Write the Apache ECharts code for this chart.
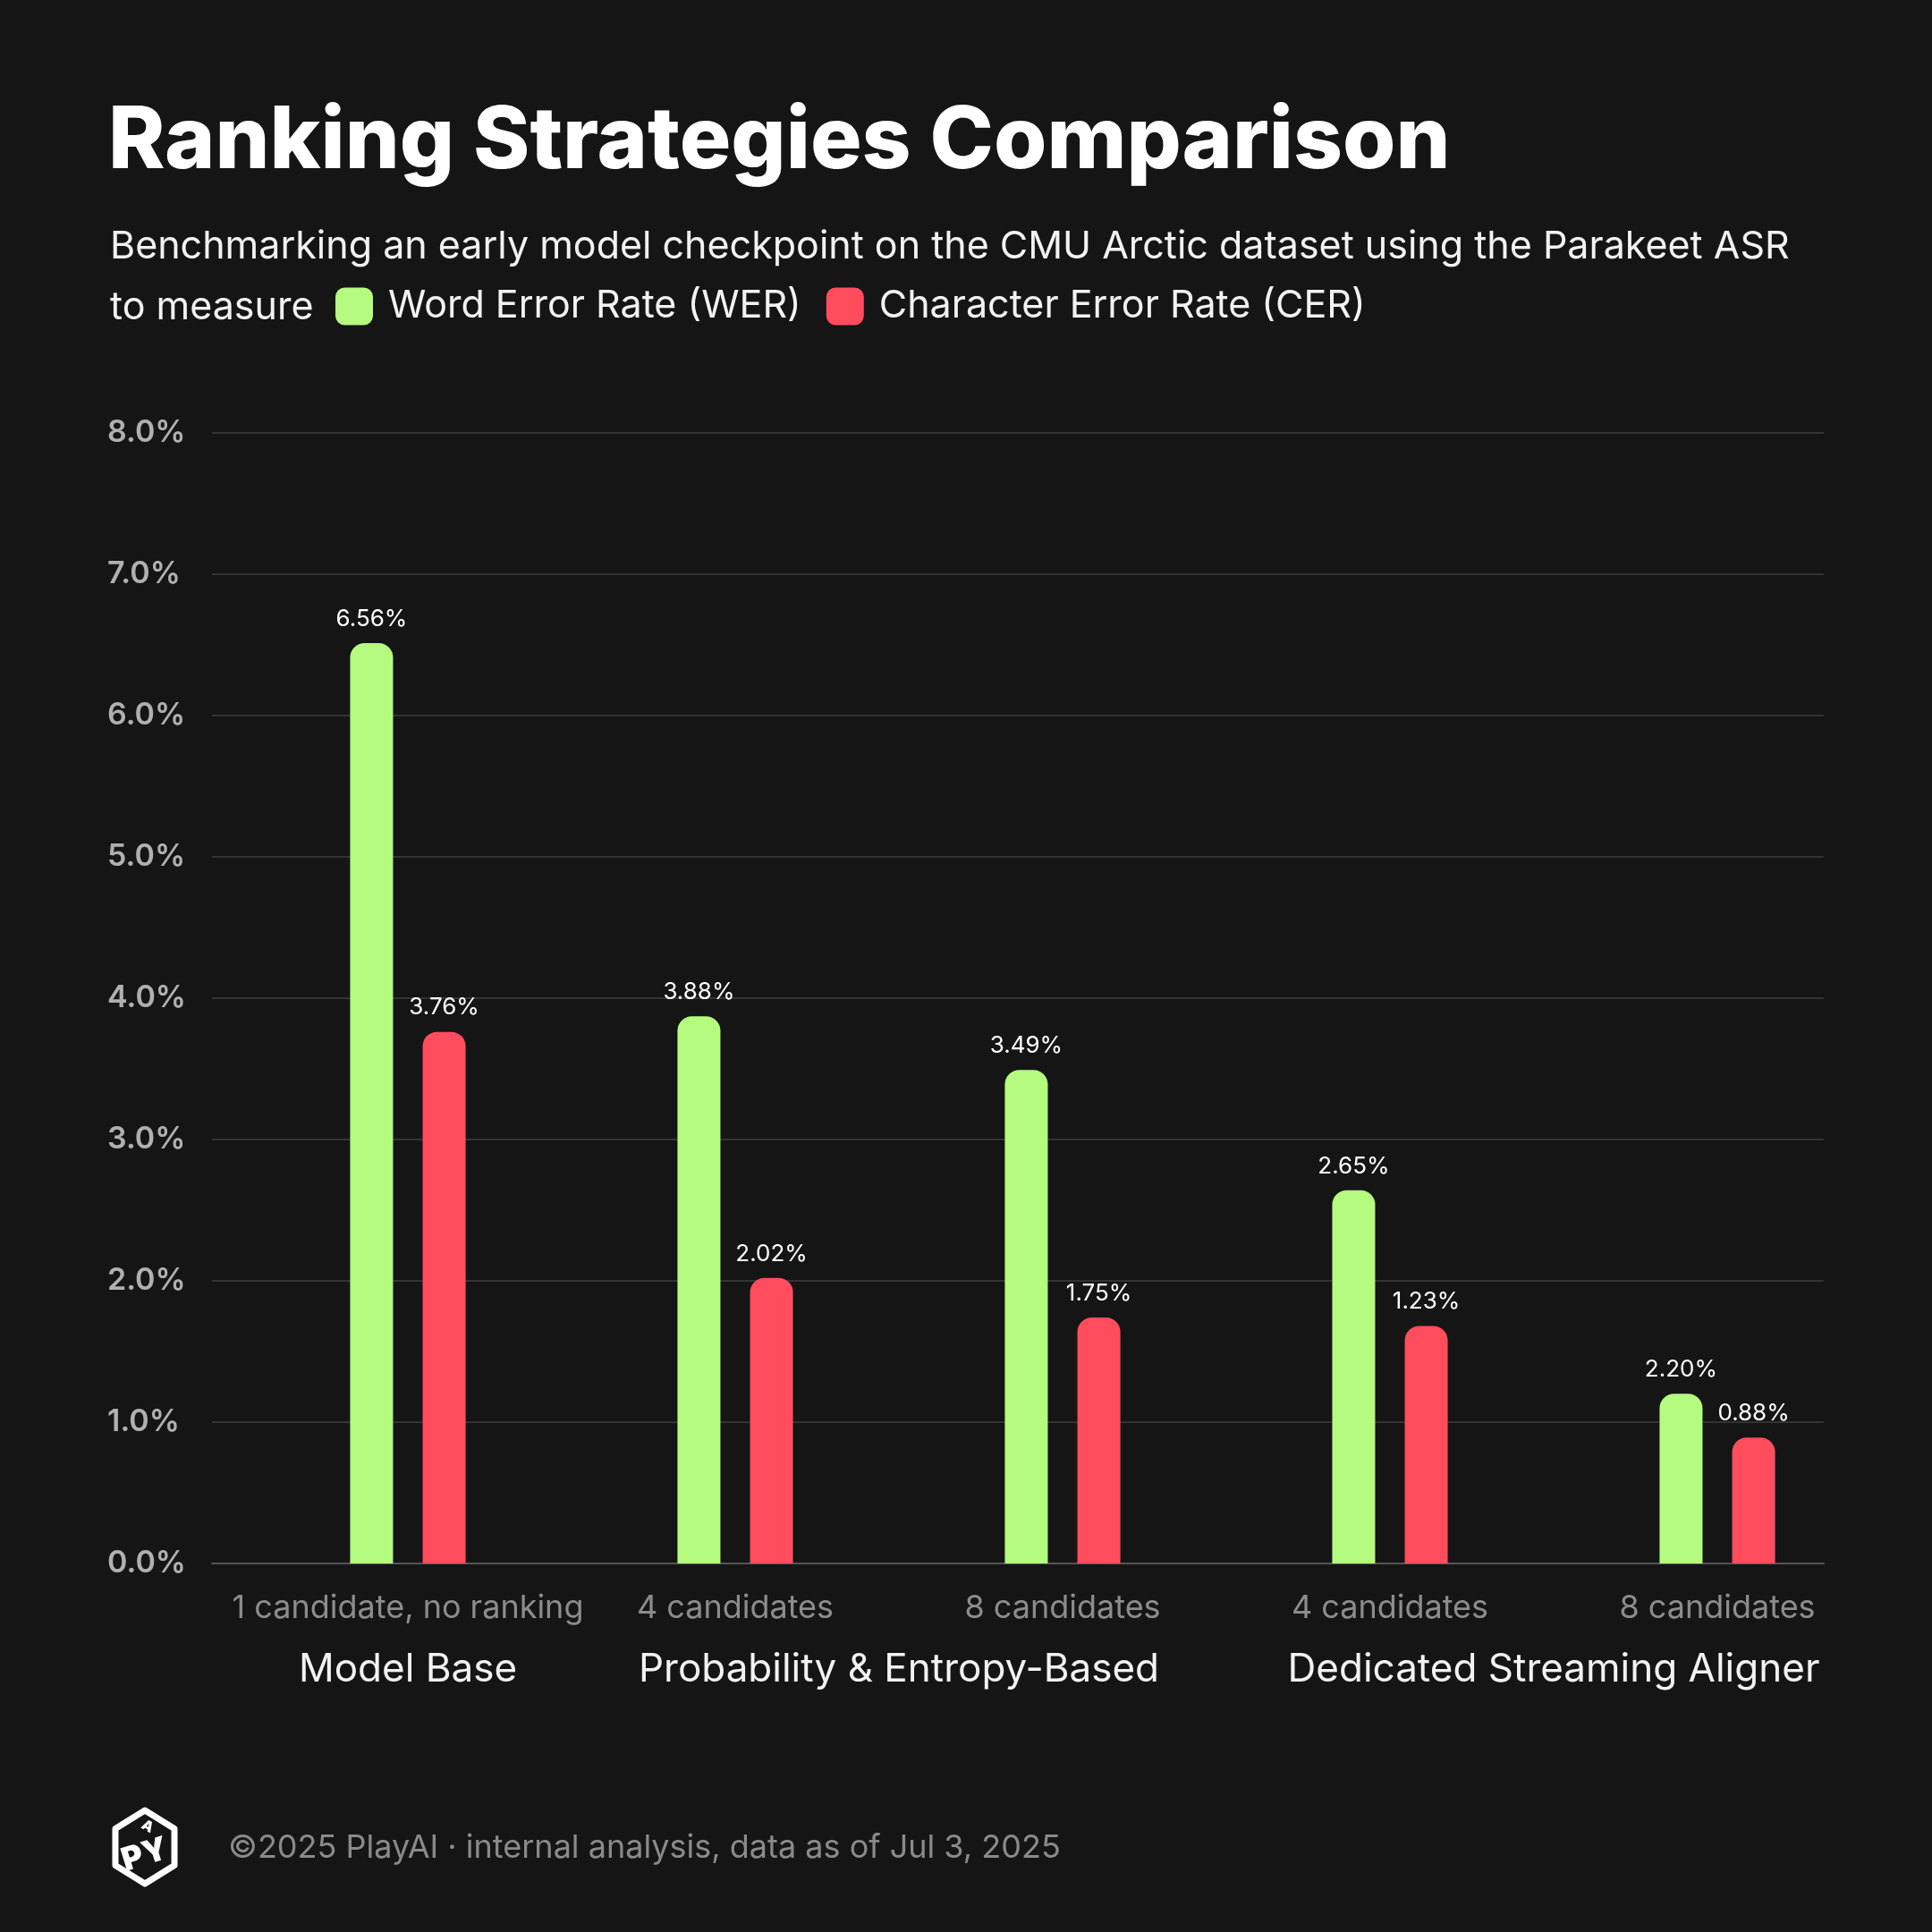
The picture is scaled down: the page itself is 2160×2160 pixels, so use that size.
<!DOCTYPE html>
<html>
<head>
<meta charset="utf-8">
<script src="https://cdn.jsdelivr.net/npm/echarts@6/dist/echarts.min.js"></script>
<style>
  html, body { margin: 0; padding: 0; background: #151515; }
  #main { width: 2160px; height: 2160px; }
</style>
</head>
<body>
<div id="main"></div>
<script>
// data
var categories = ['1 candidate, no ranking', '4 candidates', '8 candidates', '4 candidates', '8 candidates'];
var werValues = [6.51, 3.87, 3.49, 2.64, 1.20];
var cerValues = [3.76, 2.02, 1.74, 1.68, 0.89];
var werLabels = ['6.56%', '3.88%', '3.49%', '2.65%', '2.20%'];
var cerLabels = ['3.76%', '2.02%', '1.75%', '1.23%', '0.88%'];
var groupNames = ['Model Base', 'Probability & Entropy-Based', 'Dedicated Streaming Aligner'];
var groupSpans = [[0, 0], [1, 2], [3, 4]];
var yTicks = [0, 1, 2, 3, 4, 5, 6, 7, 8];

var FONT = 'Inter, "Noto Sans", sans-serif';
var GREEN = '#b4fb7f';
var RED = '#ff4d5e';

var myChart = echarts.init(document.getElementById('main'), null, { renderer: 'canvas' });

function barSeries(name, values, labels, color) {
  return {
    name: name,
    type: 'bar',
    xAxisIndex: 1,
    yAxisIndex: 1,
    barWidth: 48,
    barGap: '69%',
    data: values,
    itemStyle: { color: color, borderRadius: [16, 16, 0, 0] },
    label: {
      show: true,
      position: 'top',
      distance: 14,
      color: '#ffffff',
      fontFamily: FONT,
      fontSize: 26,
      formatter: function (p) { return labels[p.dataIndex]; }
    }
  };
}

var option = {
  backgroundColor: '#151515',
  animation: false,
  title: [{
    text: 'Ranking Strategies Comparison',
    left: 116,
    top: 106,
    textStyle: { color: '#ffffff', fontFamily: FONT, fontSize: 96, fontWeight: 800 }
  }, {
    text: 'Benchmarking an early model checkpoint on the CMU Arctic dataset using the Parakeet ASR\nto measure',
    left: 118,
    top: 237,
    textStyle: { color: '#f2f2f2', fontFamily: FONT, fontSize: 43, fontWeight: 400, lineHeight: 68 }
  }, {
    text: '©2025 PlayAI · internal analysis, data as of Jul 3, 2025',
    left: 250,
    top: 2043,
    textStyle: { color: '#8a8a8a', fontFamily: FONT, fontSize: 36, fontWeight: 400 }
  }],
  legend: {
    left: 370,
    top: 316,
    icon: 'roundRect',
    itemWidth: 42,
    itemHeight: 42,
    itemGap: 28,
    data: ['Word Error Rate (WER)', 'Character Error Rate (CER)'],
    textStyle: { color: '#f2f2f2', fontFamily: FONT, fontSize: 43, padding: [0, 0, 0, 12] }
  },
  grid: [
    { left: 237, right: 121, top: 483.5, bottom: 412 },
    { left: 273, right: 57, top: 483.5, bottom: 412 }
  ],
  xAxis: [{
    gridIndex: 0,
    type: 'category',
    data: categories,
    axisLine: { show: true, lineStyle: { color: '#555555', width: 2 } },
    axisTick: { show: false },
    axisLabel: { show: false },
    splitLine: { show: false }
  }, {
    gridIndex: 1,
    type: 'category',
    data: categories,
    axisLine: { show: false },
    axisTick: { show: false },
    axisLabel: { interval: 0, color: '#8c8c8c', fontFamily: FONT, fontSize: 36, margin: 32 }
  }],
  yAxis: [{
    gridIndex: 0,
    type: 'value',
    min: yTicks[0],
    max: yTicks[yTicks.length - 1],
    interval: 1,
    axisLine: { show: false },
    axisTick: { show: false },
    splitLine: { lineStyle: { color: '#333333', width: 2 } },
    axisLabel: {
      color: '#b0b0b0',
      fontFamily: FONT,
      fontSize: 34,
      fontWeight: 600,
      align: 'left',
      margin: 117,
      formatter: function (v) { return v.toFixed(1) + '%'; }
    }
  }, {
    gridIndex: 1,
    type: 'value',
    min: yTicks[0],
    max: yTicks[yTicks.length - 1],
    interval: 1,
    show: false
  }],
  series: [
    barSeries('Word Error Rate (WER)', werValues, werLabels, GREEN),
    barSeries('Character Error Rate (CER)', cerValues, cerLabels, RED)
  ]
};
myChart.setOption(option);

// group names under the category labels, centred on their categories
var groupGraphics = groupNames.map(function (name, i) {
  var a = myChart.convertToPixel({ xAxisIndex: 1 }, groupSpans[i][0]);
  var b = myChart.convertToPixel({ xAxisIndex: 1 }, groupSpans[i][1]);
  return {
    type: 'text',
    x: (a + b) / 2,
    y: 1867,
    style: {
      text: name,
      fill: '#f2f2f2',
      font: '44px ' + FONT,
      textAlign: 'center',
      textVerticalAlign: 'middle'
    }
  };
});

// logo badge
var cx = 162, cy = 2065, r = 41;
var hex = [];
for (var k = 0; k < 6; k++) {
  var ang = Math.PI / 180 * (60 * k - 90);
  hex.push([cx + r * 0.93 * Math.cos(ang), cy + r * Math.sin(ang)]);
}
var logo = [{
  type: 'polygon',
  shape: { points: hex },
  style: { fill: 'none', stroke: '#ffffff', lineWidth: 7, lineJoin: 'round' }
}, {
  type: 'text',
  x: cx,
  y: cy + 9,
  rotation: 0.3,
  style: {
    text: 'PY',
    fill: '#ffffff',
    font: '900 36px ' + FONT,
    textAlign: 'center',
    textVerticalAlign: 'middle'
  }
}, {
  type: 'text',
  x: cx + 3,
  y: cy - 23,
  rotation: -0.5,
  style: {
    text: 'A',
    fill: '#ffffff',
    font: '900 16px ' + FONT,
    textAlign: 'center',
    textVerticalAlign: 'middle'
  }
}];

myChart.setOption({ graphic: groupGraphics.concat(logo) });
</script>
</body>
</html>
